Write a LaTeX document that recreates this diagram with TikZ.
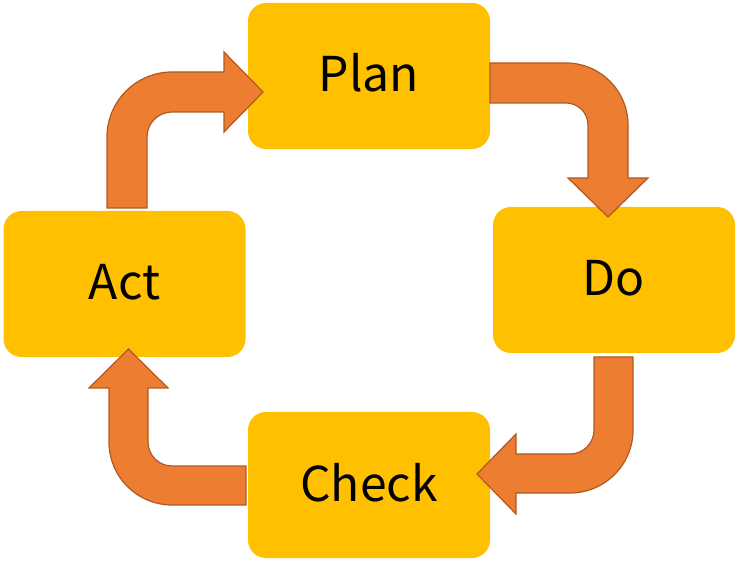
\documentclass[tikz,border=0pt]{standalone}
\usepackage{fontspec}
\newfontfamily\jpfont{Noto Sans CJK JP}
\definecolor{boxgold}{HTML}{FFC000}
\definecolor{arrfill}{HTML}{ED7D31}
\definecolor{arrline}{HTML}{AE5A21}
\begin{document}
\begin{tikzpicture}[x=1pt,y=1pt,
  stagebox/.style={fill=boxgold,draw=none,rounded corners=18pt,minimum width=242pt,minimum height=146pt,inner sep=0pt,text height=38pt,text depth=6pt,font=\jpfont\fontsize{48}{56}\selectfont,text=black},
  blockarrow/.style={fill=arrfill,draw=arrline,line width=1.2pt,line join=miter}]
\useasboundingbox (0,0) rectangle (738,562);
\node[stagebox] (plan) at (369,486) {Plan};
\node[stagebox] (do) at (614,282) {Do};
\node[stagebox] (act) at (124.5,278) {Act};
\node[stagebox] (check) at (369,77) {Check};
% Act -> Plan
\draw[blockarrow] (107,354) -- (107,425) arc[start angle=180,end angle=90,radius=65] -- (224,490) -- (224,510) -- (263,470) -- (224,430) -- (224,450) -- (172,450) arc[start angle=90,end angle=180,radius=25] -- (147,354) -- cycle;
% Plan -> Do
\draw[blockarrow] (490,499) -- (566,499) arc[start angle=90,end angle=0,radius=62] -- (628,384) -- (648,384) -- (608,345) -- (568,384) -- (588,384) -- (588,437) arc[start angle=0,end angle=90,radius=22] -- (490,459) -- cycle;
% Do -> Check
\draw[blockarrow] (633,205) -- (633,132) arc[start angle=0,end angle=-90,radius=63] -- (516,69) -- (516,48) -- (477,88) -- (516,128) -- (516,108) -- (570,108) arc[start angle=-90,end angle=0,radius=24] -- (594,205) -- cycle;
% Check -> Act
\draw[blockarrow] (246,57) -- (172,57) arc[start angle=-90,end angle=-180,radius=63] -- (109,174) -- (89,174) -- (128.5,213) -- (168,174) -- (148,174) -- (148,120) arc[start angle=180,end angle=270,radius=24] -- (246,96) -- cycle;
\end{tikzpicture}
\end{document}
